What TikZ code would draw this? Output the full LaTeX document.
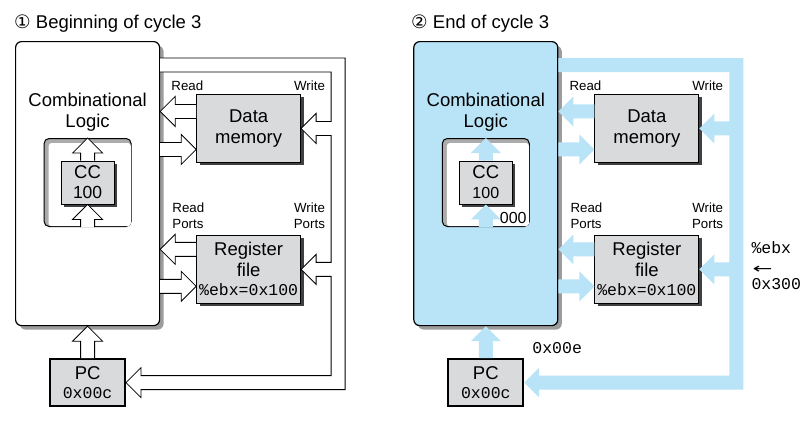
\documentclass[tikz,border=0pt]{standalone}
\usepackage{fontspec}
\setmainfont{Liberation Sans}
\setmonofont{Liberation Mono}
\newfontfamily\symfont{DejaVu Sans}
\usetikzlibrary{positioning,calc,shadows}

\definecolor{boxgray}{HTML}{D9DADC}
\definecolor{wireblue}{HTML}{B9E3F7}
\definecolor{shadegray}{HTML}{9C9C9C}

\newcommand{\mainsize}{\fontsize{18.5}{21}\selectfont}
\newcommand{\regval}[1]{{\ttfamily\fontsize{16.5}{18}\selectfont #1}}
% wide arrow from #2 to the tip #3
\newcommand{\blockarrow}[3][]{%
  \filldraw[#1] let \p1=#2, \p2=#3,
      \n1={atan2(\y2-\y1,\x2-\x1)}, \n2={veclen(\x2-\x1,\y2-\y1)} in
    [shift={(\p1)}, rotate=\n1]
    (0pt,7pt) -- ({\n2-15pt},7pt) -- ({\n2-15pt},15pt) -- (\n2,0pt)
    -- ({\n2-15pt},-15pt) -- ({\n2-15pt},-7pt) -- (0pt,-7pt);}

\tikzset{
  unit/.style={draw, fill=boxgray, line width=0.9pt, align=center, inner sep=0pt,
    minimum width=104pt, minimum height=68pt, font=\mainsize,
    drop shadow={shadow xshift=3pt, shadow yshift=-3pt, fill=black!75, opacity=1}},
  logic/.style={draw, rounded corners=6pt, line width=1.2pt, inner sep=0pt,
    minimum width=144pt, minimum height=284pt,
    drop shadow={shadow xshift=4pt, shadow yshift=-4pt, fill=shadegray, opacity=1}},
  ccframe/.style={draw, rounded corners=5pt, line width=1pt, fill=shadegray!85,
    minimum width=87pt, minimum height=88pt, inner sep=0pt},
  ccbox/.style={unit, minimum width=53pt, minimum height=43pt, font=\fontsize{18.5}{20}\selectfont},
  pcbox/.style={draw, fill=boxgray, line width=1.8pt, align=center, inner sep=0pt,
    minimum width=75pt, minimum height=47pt, font=\fontsize{18.5}{19}\selectfont},
  port/.style={font=\fontsize{13.3}{16}\selectfont, inner sep=0pt},
  title/.style={font=\mainsize, inner sep=0pt, anchor=base west},
  hollow/.style={fill=white, draw=black, line width=0.8pt},
  flow/.style={fill=wireblue, draw=none}
}

\begin{document}
\begin{tikzpicture}[x=1pt, y=-1pt]
  \useasboundingbox (0,0) rectangle (803,421);

  % Beginning of cycle 3
  \node[title] (titlea) at (14,28) {{\symfont ①} Beginning of cycle 3};
  \node[logic, fill=white, anchor=north west] (cla) at (15,41) {};
  \node[font=\mainsize, align=center, inner sep=0pt] (cltxa) at ($(cla.north)+(0,71)$) {Combinational\\Logic};
  \node[ccframe, below=97pt of cla.north] (ccfa) {};
  \fill[white, rounded corners=3pt] ($(ccfa.north west)+(5,5)$) rectangle ($(ccfa.south east)+(-0.8,-0.8)$);
  \node[ccbox] (cca) at (ccfa.center) {CC\\{\fontsize{17.5}{18}\selectfont 100}};
  \node[unit, below right=53pt and 36pt of cla.north east] (dma) {Data\\memory};
  \node[unit, below=72pt of dma] (rfa) {Register\\file\\[-2pt]\regval{\%ebx=0x100}};
  \node[pcbox, below=32pt of cla] (pca) {PC\\\regval{0x00c}};

  \node[port, anchor=base west] (rda) at ($(dma.north west)+(-25,-4)$) {Read};
  \node[port, anchor=base east] (wra) at ($(dma.north east)+(24,-4)$) {Write};
  \node[port, align=left, anchor=south west] (rpa) at ($(rfa.north west)+(-24,-6)$) {Read\\Ports};
  \node[port, align=right, anchor=south east] (wpa) at ($(rfa.north east)+(24,-6)$) {Write\\Ports};

  % Ports of cycle 3
  \coordinate (dmra) at ($(dma.west)+(0,-17)$);
  \coordinate (dmia) at ($(dma.west)+(0,21)$);
  \coordinate (rfra) at ($(rfa.west)+(0,-20)$);
  \coordinate (rfia) at ($(rfa.west)+(0,17)$);
  \coordinate (busa) at ($(dma.east)+(44,0)$);
  \coordinate (pcla) at ($(pca.east)+(0,7)$);

  \filldraw[hollow] ($(cla.north east)+(0,31)$) -| ($(dma.east)+(30,-7)$) -- ++(-15,0) -- ++(0,-8)
    -- (dma.east) -- ++(15,15) -- ++(0,-8) -- ++(15,0) -- ($(rfa.east)+(30,-7)$) -- ++(-15,0) -- ++(0,-8)
    -- (rfa.east) -- ++(15,15) -- ++(0,-8) -- ++(15,0) |- ($(pca.east)+(15,-7)$) -- ++(0,-8)
    -- (pca.east) -- ++(15,15) -- ++(0,-8) -- (busa |- pcla) |- ($(cla.north east)+(0,17)$);

  \blockarrow[hollow]{(dmra)}{(cla.east |- dmra)}
  \blockarrow[hollow]{(cla.east |- dmia)}{(dmia)}
  \blockarrow[hollow]{(rfra)}{(cla.east |- rfra)}
  \blockarrow[hollow]{(cla.east |- rfia)}{(rfia)}
  \blockarrow[hollow]{(cca.north)}{(ccfa.north)}
  \blockarrow[hollow]{(ccfa.south)}{(cca.south)}
  \blockarrow[hollow]{(pca.north)}{(cla.south)}

  % End of cycle 3
  \node[title] (titleb) at (411,28) {{\symfont ②} End of cycle 3};
  \node[logic, fill=wireblue, right=253pt of cla] (clb) {};
  \node[font=\mainsize, align=center, inner sep=0pt] (cltxb) at ($(clb.north)+(0,71)$) {Combinational\\Logic};
  \node[ccframe, below=97pt of clb.north] (ccfb) {};
  \fill[white, rounded corners=3pt] ($(ccfb.north west)+(5,5)$) rectangle ($(ccfb.south east)+(-0.8,-0.8)$);
  \node[ccbox] (ccb) at (ccfb.center) {CC\\{\fontsize{16}{18}\selectfont 100}};
  \node[unit, below right=53pt and 36pt of clb.north east] (dmb) {Data\\memory};
  \node[unit, below=72pt of dmb] (rfb) {Register\\file\\[-2pt]\regval{\%ebx=0x100}};
  \node[pcbox, below=32pt of clb] (pcb) {PC\\\regval{0x00c}};

  \node[port, anchor=base west] (rdb) at ($(dmb.north west)+(-25,-4)$) {Read};
  \node[port, anchor=base east] (wrb) at ($(dmb.north east)+(24,-4)$) {Write};
  \node[port, align=left, anchor=south west] (rpb) at ($(rfb.north west)+(-24,-6)$) {Read\\Ports};
  \node[port, align=right, anchor=south east] (wpb) at ($(rfb.north east)+(24,-6)$) {Write\\Ports};

  \coordinate (dmrb) at ($(dmb.west)+(0,-17)$);
  \coordinate (dmib) at ($(dmb.west)+(0,21)$);
  \coordinate (rfrb) at ($(rfb.west)+(0,-20)$);
  \coordinate (rfib) at ($(rfb.west)+(0,17)$);
  \coordinate (busb) at ($(dmb.east)+(44,0)$);
  \coordinate (pclb) at ($(pcb.east)+(0,7)$);

  \fill[flow] ($(clb.north east)+(0,31)$) -| ($(dmb.east)+(30,-7)$) -- ++(-15,0) -- ++(0,-8)
    -- (dmb.east) -- ++(15,15) -- ++(0,-8) -- ++(15,0) -- ($(rfb.east)+(30,-7)$) -- ++(-15,0) -- ++(0,-8)
    -- (rfb.east) -- ++(15,15) -- ++(0,-8) -- ++(15,0) |- ($(pcb.east)+(15,-7)$) -- ++(0,-8)
    -- (pcb.east) -- ++(15,15) -- ++(0,-8) -- (busb |- pclb) |- ($(clb.north east)+(0,17)$) -- cycle;

  \blockarrow[flow]{(dmrb)}{(clb.east |- dmrb)}
  \blockarrow[flow]{(clb.east |- dmib)}{(dmib)}
  \blockarrow[flow]{(rfrb)}{(clb.east |- rfrb)}
  \blockarrow[flow]{(clb.east |- rfib)}{(rfib)}
  \blockarrow[flow]{(ccb.north)}{(ccfb.north)}
  \blockarrow[flow]{(ccfb.south)}{(ccb.south)}
  \blockarrow[flow]{(pcb.north)}{(clb.south)}

  \node[font=\fontsize{16}{18}\selectfont, inner sep=0pt, anchor=base east] (ccnewb) at ($(ccfb.south east)+(-3,-4)$) {000};
  \node[inner sep=0pt, anchor=base west] (pcnewb) at ($(pcb.north east)+(8,-5)$) {\regval{0x00e}};
  \node[inner sep=0pt, anchor=base west] (ebxb) at ($(rfb.east)+(52,-15.5)$) {\regval{\%ebx}};
  \node[inner sep=0pt, anchor=base west, font=\symfont\fontsize{14}{14}\selectfont] (setb) at ($(rfb.east)+(53,4)$) {\scalebox{1.7}[1]{←}};
  \node[inner sep=0pt, anchor=base west] (newb) at ($(rfb.east)+(52,20.5)$) {\regval{0x300}};
\end{tikzpicture}
\end{document}
